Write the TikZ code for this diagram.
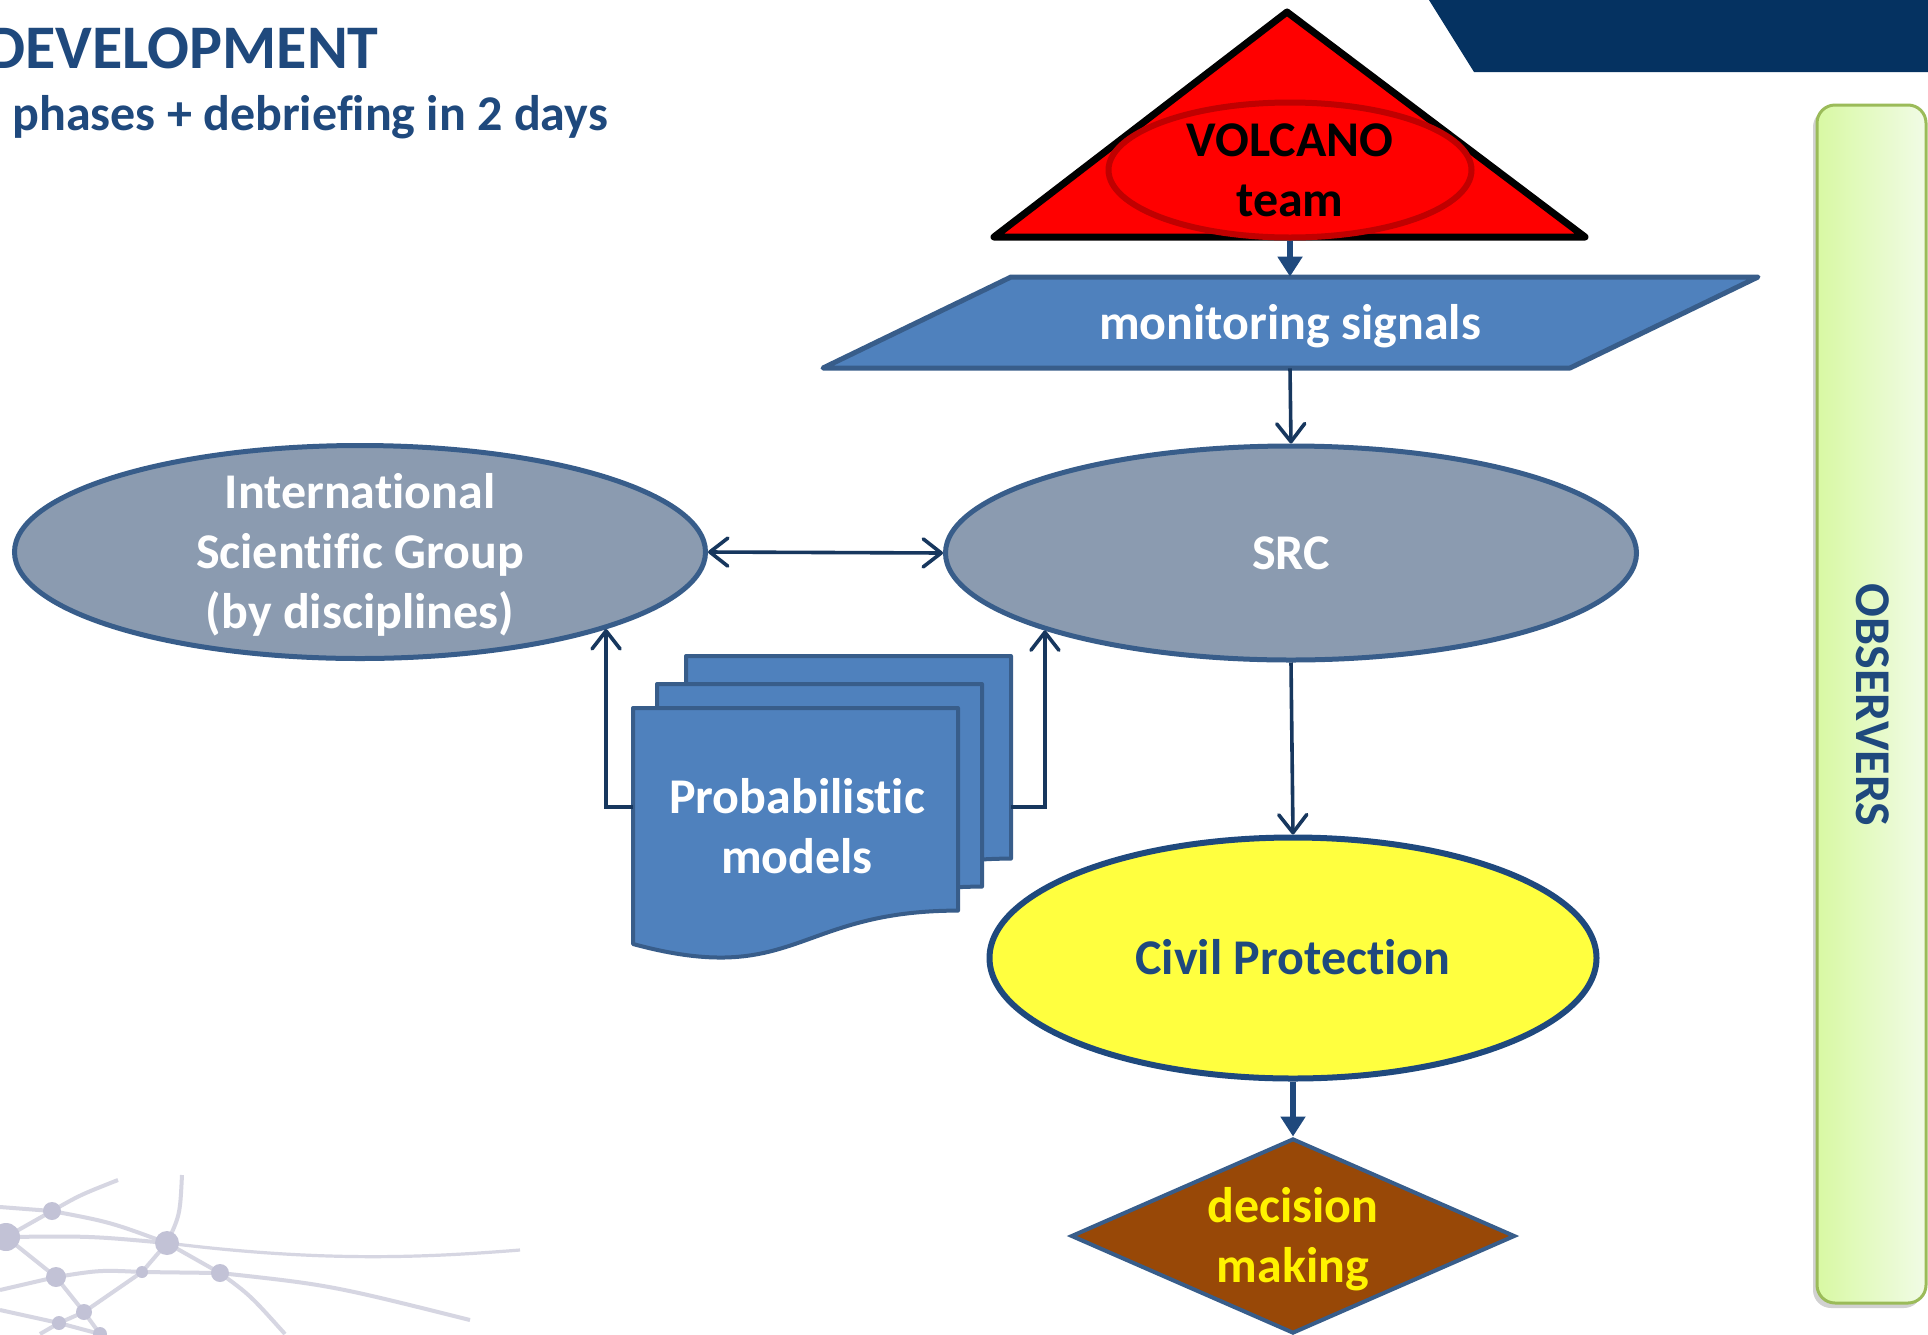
\documentclass[tikz,border=0pt]{standalone}
\usepackage{fontspec}
\setmainfont{Carlito}[Ligatures=NoCommon]
\usetikzlibrary{shapes.geometric,arrows.meta}
\definecolor{tblue}{HTML}{1F497D}
\definecolor{navy}{HTML}{17375E}
\definecolor{pblue}{HTML}{4F81BD}
\definecolor{pborder}{HTML}{385D8A}
\definecolor{gfill}{HTML}{8B9BB0}
\definecolor{yfill}{HTML}{FFFF3F}
\definecolor{dbrown}{HTML}{984807}
\definecolor{dred}{HTML}{C00000}
\definecolor{obsL}{HTML}{D8F9A3}
\definecolor{obsR}{HTML}{F1FBE6}
\definecolor{obsB}{HTML}{9BBB59}
\definecolor{banner}{HTML}{053261}
\definecolor{netl}{HTML}{D6D6E2}
\definecolor{netd}{HTML}{C2C2D6}
\newcommand\sst{\rule[-6.7pt]{0pt}{30pt}}
\begin{document}
\begin{tikzpicture}[x=0.5pt,y=-0.5pt,
  >={Straight Barb[length=9pt,width=14pt,round]},
  txt/.style={font=\bfseries\fontsize{25pt}{30pt}\selectfont, align=center, inner sep=0pt},
  ell/.style={ellipse, draw=pborder, line width=2.5pt, fill=gfill, inner sep=0pt},
  conn/.style={draw=navy, line width=1.8pt, ->},
  fatarrow/.style={draw=tblue, line width=3pt, -{Triangle[length=10pt,width=12pt]}},
  netline/.style={draw=netl, line width=2pt},
  netdot/.style={fill=netd},
  pics/docpage/.style={code={
    \draw[draw=pborder, fill=pblue, line width=2pt, line join=round]
      (0,0) -- (325,0) -- (325,202.6) .. controls (162.5,202.6) and (162.5,280) .. (0,236) -- cycle;
  }}
]
\useasboundingbox (0,0) rectangle (1928,1334);
\clip (0,0) rectangle (1928,1334);
\fill[white] (0,0) rectangle (1928,1334);

% background network decoration
\draw[netline] (0,1207) -- (52,1211);
\draw[netline] (52,1211) .. controls (80,1195) .. (118,1180);
\draw[netline] (52,1211) .. controls (110,1222) .. (167,1243);
\draw[netline] (6,1237) .. controls (90,1236) .. (167,1243);
\draw[netline] (6,1237) -- (52,1211);
\draw[netline] (6,1237) -- (56,1277);
\draw[netline] (167,1243) .. controls (180,1215) .. (182,1175);
\draw[netline, line width=1.6pt] (167,1243) .. controls (320,1262) and (420,1258) .. (520,1250);
\draw[netline] (167,1243) -- (220,1273) .. controls (250,1295) .. (285,1334);
\draw[netline] (0,1290) -- (56,1277) .. controls (100,1270) .. (142,1272) -- (220,1273) .. controls (330,1285) .. (470,1320);
\draw[netline] (167,1243) -- (142,1272) -- (84,1312) -- (100,1334);
\draw[netline] (56,1277) -- (84,1312);
\draw[netline] (0,1310) -- (59,1323) -- (100,1334);
\draw[netline] (84,1312) -- (59,1323) -- (40,1334);
\foreach \p/\r in {{(52,1211)}/9,{(6,1237)}/14,{(167,1243)}/12,{(56,1277)}/10,{(142,1272)}/6,{(220,1273)}/9,{(84,1312)}/8,{(59,1323)}/7,{(100,1334)}/7}
  \fill[netdot] \p circle[radius=\r];

% top-right banner
\fill[banner] (1429,0) -- (1928,0) -- (1928,72) -- (1474,72) -- cycle;

% title
\node[anchor=base east, inner sep=0pt, font=\bfseries\fontsize{31pt}{37pt}\selectfont, text=tblue] (title) at (379,68) {DEVELOPMENT};
\node[anchor=base west, txt, text=tblue] (sub) at (12,130) {phases + debriefing in 2 days};

% observers box
\fill[black, opacity=0.18, rounded corners=9pt] (1813,109) rectangle (1922,1308);
\draw[draw=obsB, line width=1.5pt, rounded corners=9pt, left color=obsL, right color=obsR] (1817,105) rectangle (1926,1303);
\node[txt, text=tblue, rotate=-90] (obs) at (1873,705) {\sst OBSERVERS};

% volcano triangle
\draw[line width=3.5pt, line join=round, fill=red] (1287,12) -- (1585,237) -- (994,237) -- cycle;
\node[ellipse, draw=dred, line width=3pt, fill=red, inner sep=0pt, minimum width=181.5pt, minimum height=67.5pt] (volc) at (1290,170) {};
\node[txt, text=black] (volct) at (volc.center) {\sst VOLCANO\\\sst team};

% monitoring signals parallelogram
\draw[draw=pborder, fill=pblue, line width=2.5pt, line join=round] (1011,277) -- (1758,277) -- (1570,368) -- (823,368) -- cycle;
\node[txt, text=white, minimum height=45.5pt] (mon) at (1290,322.5) {\sst monitoring signals};

% ellipses
\node[ell, minimum width=345.5pt, minimum height=106.5pt] (isg) at (360,552) {};
\node[txt, text=white] (isgt) at (isg.center) {\sst International\\\sst Scientific Group\\\sst (by disciplines)};
\node[ell, minimum width=345.5pt, minimum height=107pt] (src) at (1291,553) {};
\node[txt, text=white] (srct) at (src.center) {\sst SRC};
\node[ellipse, draw=tblue, line width=3pt, fill=yfill, inner sep=0pt, minimum width=303.5pt, minimum height=120.5pt] (civ) at (1293,958) {};
\node[txt, text=tblue] (civt) at (civ.center) {\sst Civil Protection};

% decision diamond
\node[diamond, draw=pborder, line width=2pt, fill=dbrown, inner sep=0pt, minimum width=222pt, minimum height=97.5pt] (dec) at (1293,1236) {};
\node[txt, text=yellow] (dect) at (dec.center) {\sst decision\\\sst making};

% document stack
\pic at (686,656) {docpage};
\pic at (657,684) {docpage};
\pic at (633,708) {docpage};
\node[txt, text=white] (doc) at (797,827) {\sst Probabilistic\\\sst models};
\coordinate (dl) at (633,807);
\coordinate (dr) at (1011,807);

% connectors
\draw[fatarrow] (volc.south) -- (mon.north);
\draw[conn] (mon.south) -- (src.north);
\draw[conn, <->] (isg.east) -- (src.west);
\draw[conn] (dl) -| (isg.south east);
\draw[conn] (dr) -| (src.south west);
\draw[conn] (src.south) -- (civ.north);
\draw[fatarrow] (civ.south) -- (dec.north);
\end{tikzpicture}
\end{document}
